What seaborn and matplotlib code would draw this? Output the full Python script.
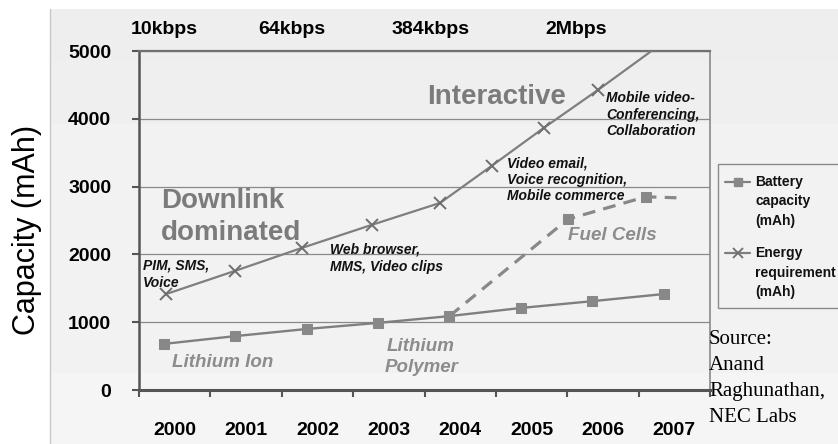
import numpy as np
import matplotlib
matplotlib.use("Agg")
import matplotlib.pyplot as plt
from matplotlib.lines import Line2D
from matplotlib.patches import Rectangle
import seaborn as sns

# data
years = [2000, 2001, 2002, 2003, 2004, 2005, 2006, 2007]
battery_mah = [680, 795, 900, 990, 1090, 1210, 1310, 1415]

energy_year = [2000.03, 2000.99, 2001.93, 2002.91, 2003.87, 2004.59, 2005.32, 2006.08, 2006.83]
energy_mah = [1415, 1755, 2095, 2435, 2760, 3305, 3865, 4425, 5000]

fuel_year = [2004, 2005.66, 2006.75, 2007.18]
fuel_mah = [1090, 2520, 2850, 2835]

rate_labels = ["10kbps", "64kbps", "384kbps", "2Mbps"]
rate_pos = [2000.01, 2001.79, 2003.74, 2005.78]

W, H = 838, 444

sns.set_theme(style="white")
plt.rcParams["font.family"] = ["Liberation Sans", "DejaVu Sans"]

fig = plt.figure(figsize=(W / 100, H / 100), dpi=100)
fig.patch.set_facecolor("white")


def fx(x):
    return x / W


def fy(y):
    return 1 - y / H


def put(txt, x, y, **kw):
    kw.setdefault("ha", "left")
    kw.setdefault("va", "center")
    fig.text(fx(x), fy(y), txt, **kw)


# grey slide panel behind the chart
for top, bot, c in [(9, 61, "#eeeeee"), (61, 124, "#efefef"), (124, 373, "#f2f2f2"), (373, 444, "#f5f5f5")]:
    fig.add_artist(Rectangle((fx(50), fy(bot)), 1, (bot - top) / H, transform=fig.transFigure,
                             facecolor=c, edgecolor="none", zorder=-20))
fig.add_artist(Line2D([fx(50), fx(50)], [0, fy(9)], transform=fig.transFigure, color="#c8c8c8", lw=1, zorder=-19))

ax = fig.add_axes([fx(139), fy(390), (710 - 139) / W, (390 - 51) / H])
ax.patch.set_alpha(0)

line_c = "#7f7f7f"
mark_c = "#888888"

sns.lineplot(x=years, y=battery_mah, ax=ax, color=line_c, lw=1.7, marker="s", markersize=7.5,
             markerfacecolor=mark_c, markeredgecolor=mark_c, legend=False, zorder=4)
sns.lineplot(x=fuel_year, y=fuel_mah, ax=ax, color=mark_c, lw=2.3, dashes=(4, 2.6), marker="s",
             markersize=7.5, markerfacecolor=mark_c, markeredgecolor=mark_c, markevery=[1, 2],
             legend=False, zorder=3, sort=False)
sns.lineplot(x=energy_year, y=energy_mah, ax=ax, color=line_c, lw=1.6, marker="x", markersize=8,
             markeredgecolor="#6f6f6f", markeredgewidth=1.4, markevery=list(range(8)),
             legend=False, zorder=4)

ax.set_xlim(1999.65, 2007.65)
ax.set_ylim(0, 5000)
ax.set_yticks(range(0, 5001, 1000))
ax.set_xticks(np.arange(1999.65, 2007.66, 1.0))
ax.set_xticklabels([])
ax.set_xticks([y + 0.15 for y in years], minor=True)
ax.set_xticklabels([str(y) for y in years], minor=True)
ax.tick_params(axis="x", which="major", length=5, width=1.5, color="#555555", direction="out", bottom=True)
ax.tick_params(axis="x", which="minor", length=0, pad=23, labelsize=14)
ax.tick_params(axis="y", length=5, width=1.5, color="#555555", direction="out", left=True, pad=15, labelsize=14)
for lab in ax.get_xticklabels(minor=True) + ax.get_yticklabels():
    lab.set_fontweight("bold")
    lab.set_color("black")

ax.grid(axis="y", color="#8a8a8a", lw=0.9)
ax.set_axisbelow(True)
ax.spines["left"].set_color("#555555")
ax.spines["left"].set_linewidth(1.8)
ax.spines["bottom"].set_color("#555555")
ax.spines["bottom"].set_linewidth(2.2)
ax.spines["top"].set_color("#707070")
ax.spines["top"].set_linewidth(1.6)
ax.spines["right"].set_color("#8a8a8a")
ax.spines["right"].set_linewidth(1.2)
ax.set_xlabel("")
ax.set_ylabel("")

# data rates above the plot
for lab, xp in zip(rate_labels, rate_pos):
    ax.text(xp, 1.062, lab, transform=ax.get_xaxis_transform(), ha="center", va="center",
            fontsize=14, fontweight="bold", color="black")

put("Capacity (mAh)", 27, 230, rotation=90, ha="center", fontsize=22, color="black")

big = dict(fontsize=20, fontweight="bold", color="#7b7b7b")
put("Downlink", 161, 201, **big)
put("dominated", 161, 233, **big)
put("Interactive", 427, 97, **big)

tech = dict(fontsize=13.5, fontweight="bold", style="italic", color="#8c8c8c")
put("Lithium Ion", 172, 362, **tech)
put("Lithium", 387, 346, **tech)
put("Polymer", 385, 368, **tech)
put("Fuel Cells", 568, 235, **tech)

apps = dict(fontsize=10, fontweight="bold", style="italic", color="#111111")
for lines, x0, y0, step in [
    (["PIM, SMS,", "Voice"], 143, 266, 17),
    (["Web browser,", "MMS, Video clips"], 330, 249, 18),
    (["Video email,", "Voice recognition,", "Mobile commerce"], 507, 163, 16.5),
    (["Mobile video-", "Conferencing,", "Collaboration"], 606, 98, 16.5),
]:
    for i, t in enumerate(lines):
        put(t, x0, y0 + i * step, **apps)

# legend box (drawn by hand so the handle sits on the first label line)
fig.add_artist(Rectangle((fx(718), fy(308)), (845 - 718) / W, (308 - 164) / H, transform=fig.transFigure,
                         facecolor="#f2f2f2", edgecolor="#8a8a8a", lw=1, clip_on=False))
fig.add_artist(Line2D([fx(725), fx(737.5), fx(750)], [fy(182)] * 3, transform=fig.transFigure,
                      color=line_c, lw=1.6, marker="s", markersize=6, markevery=[1],
                      markerfacecolor=mark_c, markeredgecolor=mark_c))
fig.add_artist(Line2D([fx(725), fx(737.5), fx(750)], [fy(253)] * 3, transform=fig.transFigure,
                      color=line_c, lw=1.6, marker="x", markersize=7, markevery=[1],
                      markeredgecolor="#6f6f6f", markeredgewidth=1.3))
leg = dict(fontsize=10, fontweight="bold", color="#111111")
for i, t in enumerate(["Battery", "capacity", "(mAh)"]):
    put(t, 755, 182 + i * 19.5, **leg)
for i, t in enumerate(["Energy", "requirement", "(mAh)"]):
    put(t, 755, 253 + i * 19.5, **leg)

src = dict(fontsize=15, family=["Liberation Serif", "DejaVu Serif"], color="black")
for i, t in enumerate(["Source:", "Anand", "Raghunathan,", "NEC Labs"]):
    put(t, 709, 340 + i * 25.7, **src)

fig.savefig("out.png", dpi=100)
